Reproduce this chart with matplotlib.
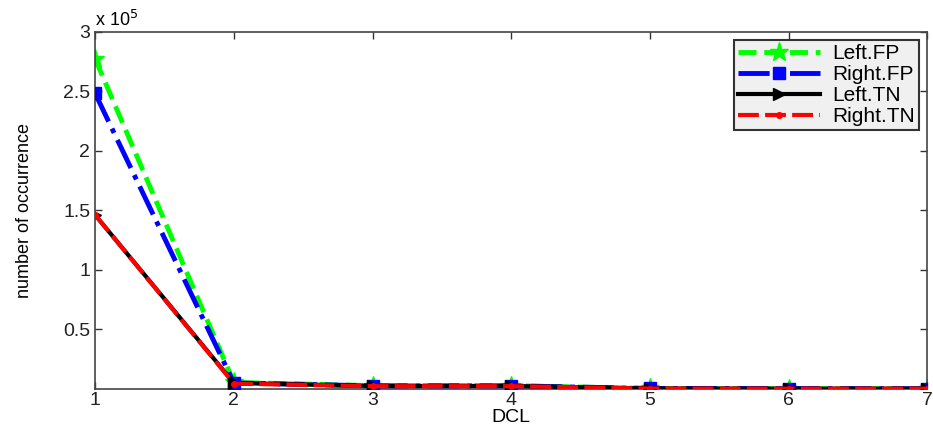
import matplotlib
matplotlib.use("Agg")
import matplotlib.pyplot as plt

dcl = [1, 2, 3, 4, 5, 6, 7]
left_fp = [277000, 5500, 2800, 2800, 400, 300, 200]
right_fp = [248000, 5000, 2600, 2600, 400, 300, 200]
left_tn = [146000, 5000, 2500, 2500, 300, 200, 200]
right_tn = [146000, 4500, 2300, 2300, 300, 200, 200]
yticks = [50000, 100000, 150000, 200000, 250000, 300000]
ytick_labels = ["0.5", "1", "1.5", "2", "2.5", "3"]

plt.rcParams['font.family'] = ['Liberation Sans', 'DejaVu Sans']

fig = plt.figure(figsize=(9.33, 4.26), dpi=100)
ax = fig.add_axes([0.102, 0.087, 0.892, 0.839])

ax.plot(dcl, left_fp, color='#00ff00', linestyle='--', linewidth=3.5,
        marker='*', markersize=14, label='Left.FP', zorder=2)
ax.plot(dcl, right_fp, color='#0000ff', linestyle='-.', linewidth=3.5,
        marker='s', markersize=8, label='Right.FP', zorder=3)
ax.plot(dcl, left_tn, color='black', linestyle='-', linewidth=3,
        marker='>', markersize=9, label='Left.TN', zorder=4)
ax.plot(dcl, right_tn, color='red', linestyle='--', linewidth=3,
        dashes=(5, 1.5), marker='.', markersize=8, label='Right.TN', zorder=5)

ax.set_xlim(1, 7)
ax.set_ylim(0, 300000)
ax.set_xticks(dcl)
ax.set_xticklabels([str(d) for d in dcl])
ax.set_yticks(yticks)
ax.set_yticklabels(ytick_labels)
ax.tick_params(direction='in', top=True, right=True, labelsize=14,
               length=5, width=1, colors='#333333', labelcolor='#222222')
ax.tick_params(axis='x', pad=2)
for sp in ax.spines.values():
    sp.set_color('#444444')
    sp.set_linewidth(1.2)

ax.set_xlabel('DCL', fontsize=14, labelpad=0)
ax.set_ylabel('number of occurrence', fontsize=13, labelpad=22,
              family=['Liberation Sans Narrow', 'Liberation Sans', 'DejaVu Sans'])
ax.text(0.0, 1.005, r'x 10$^5$', transform=ax.transAxes, fontsize=13,
        ha='left', va='bottom')

leg = ax.legend(loc='upper right', fontsize=15, frameon=True, fancybox=False,
                borderpad=0.2, labelspacing=0.1, handlelength=3.9,
                handletextpad=0.6, borderaxespad=0.4)
leg.get_frame().set_edgecolor('#333333')
leg.get_frame().set_facecolor('#f0f0f0')
leg.get_frame().set_linewidth(1.5)
leg.get_frame().set_alpha(1)

fig.savefig('out.png', dpi=100)
